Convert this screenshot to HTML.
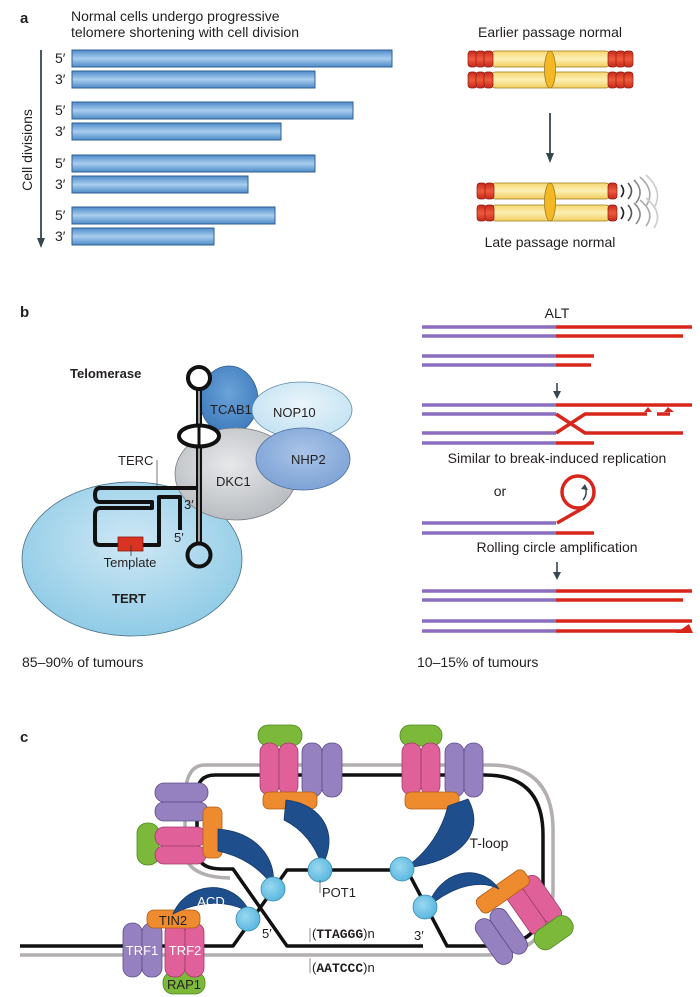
<!DOCTYPE html>
<html><head><meta charset="utf-8"><style>
html,body{margin:0;padding:0;background:#fff}
svg{display:block}
text{font-family:"Liberation Sans",sans-serif;fill:#231f20}
.b{font-weight:bold}
</style></head><body>
<svg width="700" height="997" viewBox="0 0 700 997" xmlns="http://www.w3.org/2000/svg">
<defs>
<linearGradient id="bar" x1="0" y1="0" x2="0" y2="1"><stop offset="0" stop-color="#4d8bc9"/><stop offset="0.5" stop-color="#a9cdee"/><stop offset="1" stop-color="#4d8bc9"/></linearGradient>
<linearGradient id="yel" x1="0" y1="0" x2="0" y2="1"><stop offset="0" stop-color="#f7d870"/><stop offset="0.5" stop-color="#fcefb5"/><stop offset="1" stop-color="#f2cf5c"/></linearGradient>
<linearGradient id="red" x1="0" y1="0" x2="0" y2="1"><stop offset="0" stop-color="#c8281a"/><stop offset="0.5" stop-color="#ee5a3c"/><stop offset="1" stop-color="#c8281a"/></linearGradient>
<radialGradient id="tert" cx="0.5" cy="0.4" r="0.6"><stop offset="0" stop-color="#cfe8f5"/><stop offset="1" stop-color="#8fcbe6"/></radialGradient>
<radialGradient id="dkc" cx="0.45" cy="0.4" r="0.6"><stop offset="0" stop-color="#e6e8ea"/><stop offset="1" stop-color="#b9bcc0"/></radialGradient>
<radialGradient id="nop" cx="0.5" cy="0.4" r="0.6"><stop offset="0" stop-color="#eaf5fb"/><stop offset="1" stop-color="#c3e2f2"/></radialGradient>
<radialGradient id="nhp" cx="0.5" cy="0.4" r="0.6"><stop offset="0" stop-color="#a9c4e8"/><stop offset="1" stop-color="#7ea3d6"/></radialGradient>
<radialGradient id="tcab" cx="0.5" cy="0.4" r="0.6"><stop offset="0" stop-color="#6ba3d8"/><stop offset="1" stop-color="#3f7bbd"/></radialGradient>
<radialGradient id="pot" cx="0.4" cy="0.4" r="0.6"><stop offset="0" stop-color="#9ad8f0"/><stop offset="1" stop-color="#5bb8e0"/></radialGradient>
</defs>

<!-- PANEL A -->
<text x="20" y="23" class="b" font-size="15">a</text>
<text x="71" y="21" font-size="14">Normal cells undergo progressive</text>
<text x="71" y="37" font-size="14">telomere shortening with cell division</text>
<g fill="url(#bar)" stroke="#2f5f8f" stroke-width="1">
<rect x="72" y="50" width="320" height="17"/>
<rect x="72" y="71" width="243" height="17"/>
<rect x="72" y="102" width="281" height="17"/>
<rect x="72" y="123" width="209" height="17"/>
<rect x="72" y="155" width="243" height="17"/>
<rect x="72" y="176" width="176" height="17"/>
<rect x="72" y="207" width="203" height="17"/>
<rect x="72" y="228" width="142" height="17"/>
</g>
<g font-size="14">
<text x="55" y="63">5′</text><text x="55" y="84">3′</text>
<text x="55" y="115">5′</text><text x="55" y="136">3′</text>
<text x="55" y="168">5′</text><text x="55" y="189">3′</text>
<text x="55" y="220">5′</text><text x="55" y="241">3′</text>
</g>
<line x1="41" y1="50" x2="41" y2="240" stroke="#37474f" stroke-width="1.8"/>
<path d="M37,238 L41,248 L45,238 Z" fill="#37474f"/>
<text transform="translate(32,150) rotate(-90)" text-anchor="middle" font-size="14">Cell divisions</text>

<text x="550" y="37" text-anchor="middle" font-size="14">Earlier passage normal</text>
<g stroke="#9a7a20" stroke-width="0.8">
<rect x="492" y="51" width="117" height="16" rx="3" fill="url(#yel)"/>
<rect x="492" y="72" width="117" height="16" rx="3" fill="url(#yel)"/>
</g>
<g fill="url(#red)" stroke="#8a1a10" stroke-width="0.7">
<rect x="468" y="51" width="9" height="16" rx="3"/><rect x="476" y="51" width="9" height="16" rx="3"/><rect x="484" y="51" width="9" height="16" rx="3"/>
<rect x="608" y="51" width="9" height="16" rx="3"/><rect x="616" y="51" width="9" height="16" rx="3"/><rect x="624" y="51" width="9" height="16" rx="3"/>
<rect x="468" y="72" width="9" height="16" rx="3"/><rect x="476" y="72" width="9" height="16" rx="3"/><rect x="484" y="72" width="9" height="16" rx="3"/>
<rect x="608" y="72" width="9" height="16" rx="3"/><rect x="616" y="72" width="9" height="16" rx="3"/><rect x="624" y="72" width="9" height="16" rx="3"/>
</g>
<ellipse cx="550" cy="69.5" rx="5.5" ry="18.5" fill="#f3b824" stroke="#9a7a20" stroke-width="0.8"/>
<line x1="550" y1="113" x2="550" y2="155" stroke="#37474f" stroke-width="1.8"/>
<path d="M546,153 L550,163 L554,153 Z" fill="#37474f"/>

<g stroke="#9a7a20" stroke-width="0.8">
<rect x="492" y="183" width="117" height="16" rx="3" fill="url(#yel)"/>
<rect x="492" y="205" width="117" height="16" rx="3" fill="url(#yel)"/>
</g>
<g fill="url(#red)" stroke="#8a1a10" stroke-width="0.7">
<rect x="477" y="183" width="9" height="16" rx="3"/><rect x="485" y="183" width="9" height="16" rx="3"/>
<rect x="608" y="183" width="9" height="16" rx="3"/>
<rect x="477" y="205" width="9" height="16" rx="3"/><rect x="485" y="205" width="9" height="16" rx="3"/>
<rect x="608" y="205" width="9" height="16" rx="3"/>
</g>
<ellipse cx="550" cy="202" rx="5.5" ry="19" fill="#f3b824" stroke="#9a7a20" stroke-width="0.8"/>
<g fill="none" stroke-width="1.6">
<path d="M621,185 Q626,191 621,197" stroke="#222"/>
<path d="M621,207 Q626,213 621,219" stroke="#222"/>
<path d="M628,183 Q635,191 628,199" stroke="#555"/>
<path d="M628,205 Q635,213 628,221" stroke="#555"/>
<path d="M634,180 Q645,191 636,203" stroke="#888"/>
<path d="M634,203 Q645,213 636,224" stroke="#888"/>
<path d="M640,177 Q656,191 646,206" stroke="#aaa"/>
<path d="M640,200 Q656,213 646,226" stroke="#aaa"/>
<path d="M646,175 Q664,191 654,208" stroke="#ccc"/>
<path d="M646,198 Q664,213 654,228" stroke="#ccc"/>
</g>
<text x="550" y="247" text-anchor="middle" font-size="14">Late passage normal</text>

<!-- PANEL B LEFT -->
<text x="20" y="317" class="b" font-size="15">b</text>
<ellipse cx="132" cy="559" rx="110" ry="77" fill="url(#tert)" stroke="#4b6f86" stroke-width="0.8"/>
<ellipse cx="229" cy="400" rx="29" ry="34" fill="url(#tcab)" stroke="#2f5f8f" stroke-width="0.8"/>
<ellipse cx="302" cy="410" rx="50" ry="28" fill="url(#nop)" stroke="#5c8aa6" stroke-width="0.8"/>
<ellipse cx="236" cy="474" rx="61" ry="46" fill="url(#dkc)" stroke="#7a7e82" stroke-width="0.8"/>
<ellipse cx="303" cy="459" rx="47" ry="31" fill="url(#nhp)" stroke="#4a6e9e" stroke-width="0.8"/>
<text x="70" y="378" class="b" font-size="13">Telomerase</text>
<text x="210" y="414" font-size="13">TCAB1</text>
<text x="273" y="417" font-size="13">NOP10</text>
<text x="216" y="486" font-size="13">DKC1</text>
<text x="291" y="464" font-size="13">NHP2</text>
<text x="118" y="465" font-size="13">TERC</text>
<line x1="157" y1="460" x2="157" y2="486" stroke="#555" stroke-width="0.8"/>
<path d="M199,488 H100 Q95,488 95,495 Q95,502 100,502 H152 V508 H100 Q95,508 95,515 V540 Q95,545 100,545 H159 V497 H180 V530" fill="none" stroke="#111" stroke-width="4" stroke-linejoin="round"/>
<rect x="118" y="537" width="25" height="14" fill="#d93322" stroke="#8a1a10" stroke-width="0.8"/>
<line x1="131" y1="545" x2="131" y2="556" stroke="#333" stroke-width="0.8"/>
<text x="130" y="567" text-anchor="middle" font-size="13">Template</text>
<line x1="199" y1="388" x2="199" y2="544" stroke="#111" stroke-width="6"/>
<line x1="199" y1="390" x2="199" y2="542" stroke="#fff" stroke-width="1.2"/>
<circle cx="199" cy="378" r="11" fill="#fff" stroke="#111" stroke-width="4"/>
<ellipse cx="199" cy="436" rx="20" ry="10.5" fill="#fff" stroke="#111" stroke-width="4"/>
<line x1="199" y1="426" x2="199" y2="447" stroke="#111" stroke-width="3"/>
<circle cx="199" cy="555" r="11.5" fill="none" stroke="#111" stroke-width="4"/>
<text x="184" y="509" font-size="13">3′</text>
<text x="174" y="542" font-size="13">5′</text>
<text x="112" y="603" class="b" font-size="13">TERT</text>
<text x="22" y="667" font-size="14">85–90% of tumours</text>

<!-- PANEL B RIGHT -->
<text x="557" y="318" text-anchor="middle" font-size="14">ALT</text>
<g stroke-width="3.5" fill="none">
<g stroke="#8a6fbf">
<line x1="422" y1="327" x2="556" y2="327"/><line x1="422" y1="336" x2="556" y2="336"/>
<line x1="422" y1="356" x2="556" y2="356"/><line x1="422" y1="365" x2="556" y2="365"/>
<line x1="422" y1="405" x2="556" y2="405"/><line x1="422" y1="414" x2="556" y2="414"/>
<line x1="422" y1="433" x2="556" y2="433"/><line x1="422" y1="443" x2="556" y2="443"/>
<line x1="422" y1="523" x2="556" y2="523"/><line x1="422" y1="533" x2="556" y2="533"/>
<line x1="422" y1="591" x2="556" y2="591"/><line x1="422" y1="600" x2="556" y2="600"/>
<line x1="422" y1="621" x2="556" y2="621"/><line x1="422" y1="631" x2="556" y2="631"/>
</g>
<g stroke="#d9261c">
<line x1="556" y1="327" x2="692" y2="327"/><line x1="556" y1="336" x2="683" y2="336"/>
<line x1="556" y1="356" x2="594" y2="356"/><line x1="556" y1="365" x2="591" y2="365"/>
<line x1="556" y1="405" x2="692" y2="405"/>
<path d="M556,414 L585,433 H683"/>
<path d="M556,433 L585,414 H647"/>
<line x1="657" y1="414" x2="670" y2="414"/>
<line x1="556" y1="443" x2="594" y2="443"/>
<path d="M557,523 L585,507"/>
<line x1="556" y1="533" x2="594" y2="533"/>
<circle cx="578" cy="492" r="16"/>
<line x1="556" y1="591" x2="692" y2="591"/><line x1="556" y1="600" x2="683" y2="600"/>
<line x1="556" y1="621" x2="692" y2="621"/><line x1="556" y1="631" x2="682" y2="631"/>
</g>
</g>
<path d="M644,412 L652,412 L648,407 Z M664,412 L674,412 L668,407 Z" fill="#d9261c"/>
<path d="M676,633 L693,633 L689,624 Z" fill="#d9261c"/>
<path d="M583,500 Q588,494 585,487" fill="none" stroke="#37474f" stroke-width="1.5"/>
<path d="M581,489 L585,484 L588,490 Z" fill="#37474f"/>
<g stroke="#37474f" stroke-width="1.6"><line x1="557" y1="383" x2="557" y2="393"/><line x1="557" y1="562" x2="557" y2="574"/></g>
<path d="M553,391 L557,399 L561,391 Z M553,572 L557,580 L561,572 Z" fill="#37474f"/>
<text x="557" y="463" text-anchor="middle" font-size="14">Similar to break-induced replication</text>
<text x="500" y="496" text-anchor="middle" font-size="14">or</text>
<text x="557" y="552" text-anchor="middle" font-size="14">Rolling circle amplification</text>
<text x="417" y="667" font-size="14">10–15% of tumours</text>

<!-- PANEL C -->
<text x="20" y="742" class="b" font-size="15">c</text>
<path d="M20,955 H485 Q553,955 553,890 V830 Q553,765 490,765 H205 Q185,765 185,800 V850 Q185,877 230,878" fill="none" stroke="#b3aeb0" stroke-width="3.5"/>
<path d="M20,946 H233 L287,870 H407 L447,946 H490 Q543,946 543,900 V835 Q543,775 485,775 H215 Q197,775 197,795 V850 Q197,869 222,869 H233 L287,946 H423" fill="none" stroke="#111" stroke-width="3.5" stroke-linejoin="round"/>

<g stroke-width="0.8">
<rect x="302" y="743" width="20" height="54" rx="9" fill="#9580c0" stroke="#5f4d8a"/>
<rect x="322" y="743" width="20" height="54" rx="9" fill="#9580c0" stroke="#5f4d8a"/>
<rect x="258" y="725" width="44" height="21" rx="10" fill="#7cb83a" stroke="#4f8a22"/>
<rect x="260" y="743" width="19" height="52" rx="9" fill="#e0609a" stroke="#a23a6c"/>
<rect x="279" y="743" width="19" height="52" rx="9" fill="#e0609a" stroke="#a23a6c"/>
<rect x="263" y="792" width="54" height="17" rx="6" fill="#ee8b2e" stroke="#b05e15"/>
<rect x="445" y="743" width="19" height="54" rx="9" fill="#9580c0" stroke="#5f4d8a"/>
<rect x="464" y="743" width="19" height="54" rx="9" fill="#9580c0" stroke="#5f4d8a"/>
<rect x="400" y="725" width="42" height="21" rx="10" fill="#7cb83a" stroke="#4f8a22"/>
<rect x="402" y="743" width="19" height="52" rx="9" fill="#e0609a" stroke="#a23a6c"/>
<rect x="421" y="743" width="19" height="52" rx="9" fill="#e0609a" stroke="#a23a6c"/>
<rect x="405" y="792" width="54" height="17" rx="6" fill="#ee8b2e" stroke="#b05e15"/>
<rect x="155" y="783" width="53" height="19" rx="9" fill="#9580c0" stroke="#5f4d8a"/>
<rect x="155" y="802" width="53" height="19" rx="9" fill="#9580c0" stroke="#5f4d8a"/>
<rect x="137" y="823" width="22" height="42" rx="10" fill="#7cb83a" stroke="#4f8a22"/>
<rect x="155" y="827" width="51" height="19" rx="9" fill="#e0609a" stroke="#a23a6c"/>
<rect x="155" y="846" width="51" height="18" rx="9" fill="#e0609a" stroke="#a23a6c"/>
<rect x="203" y="807" width="19" height="51" rx="6" fill="#ee8b2e" stroke="#b05e15"/>
<g transform="translate(502,892) rotate(-35)">
<rect x="-44" y="10" width="18" height="52" rx="9" fill="#9580c0" stroke="#5f4d8a"/>
<rect x="-26" y="10" width="18" height="52" rx="9" fill="#9580c0" stroke="#5f4d8a"/>
<rect x="0" y="2" width="19" height="54" rx="9" fill="#e0609a" stroke="#a23a6c"/>
<rect x="19" y="2" width="19" height="54" rx="9" fill="#e0609a" stroke="#a23a6c"/>
<rect x="-2" y="52" width="42" height="22" rx="10" fill="#7cb83a" stroke="#4f8a22"/>
<rect x="-28" y="-9" width="58" height="18" rx="6" fill="#ee8b2e" stroke="#b05e15"/>
</g>
<rect x="123" y="923" width="19" height="54" rx="9" fill="#9580c0" stroke="#5f4d8a"/>
<rect x="142" y="923" width="20" height="54" rx="9" fill="#9580c0" stroke="#5f4d8a"/>
<rect x="163" y="972" width="42" height="22" rx="10" fill="#7cb83a" stroke="#4f8a22"/>
<rect x="165" y="923" width="20" height="54" rx="9" fill="#e0609a" stroke="#a23a6c"/>
<rect x="185" y="923" width="19" height="54" rx="9" fill="#e0609a" stroke="#a23a6c"/>
<rect x="147" y="910" width="53" height="18" rx="7" fill="#ee8b2e" stroke="#b05e15"/>
</g>
<g fill="#1f4e8c" stroke="#163a6b" stroke-width="0.8">
<path d="M286,800 C322,804 340,834 322,866 C314,842 300,828 284,820 Z"/>
<path d="M468,799 C486,832 462,862 405,868 C428,852 442,830 448,806 Z"/>
<path d="M218,829 C256,832 277,858 273,886 C258,866 240,856 218,851 Z"/>
<path d="M428,907 C438,872 478,860 499,889 C482,880 455,884 428,907 Z"/>
<path d="M173,914 C186,882 234,876 250,913 C230,900 200,900 173,914 Z"/>
</g>
<g fill="url(#pot)" stroke="#3a8cb0" stroke-width="0.8">
<circle cx="320" cy="870" r="12"/>
<circle cx="402" cy="869" r="12"/>
<circle cx="273" cy="889" r="12"/>
<circle cx="425" cy="907" r="12"/>
<circle cx="248" cy="919" r="12"/>
</g>
<line x1="320" y1="880" x2="320" y2="893" stroke="#555" stroke-width="0.8"/>
<text x="322" y="897" font-size="13">POT1</text>
<text x="211" y="906" text-anchor="middle" font-size="13" style="fill:#fff">ACD</text>
<text x="173" y="925" text-anchor="middle" font-size="13">TIN2</text>
<text x="142" y="955" text-anchor="middle" font-size="13" style="fill:#fff">TRF1</text>
<text x="185" y="955" text-anchor="middle" font-size="13" style="fill:#fff">TRF2</text>
<text x="184" y="989" text-anchor="middle" font-size="13">RAP1</text>
<text x="262" y="938" font-size="13">5′</text>
<text x="414" y="940" font-size="13">3′</text>
<line x1="310" y1="928" x2="310" y2="942" stroke="#777" stroke-width="0.8"/>
<line x1="310" y1="958" x2="310" y2="973" stroke="#777" stroke-width="0.8"/>
<text x="312" y="938" font-size="13">(<tspan font-family="Liberation Mono" font-weight="bold">TTAGGG</tspan>)n</text>
<text x="312" y="972" font-size="13">(<tspan font-family="Liberation Mono" font-weight="bold">AATCCC</tspan>)n</text>
<text x="489" y="848" text-anchor="middle" font-size="14">T-loop</text>
</svg>
</body></html>
